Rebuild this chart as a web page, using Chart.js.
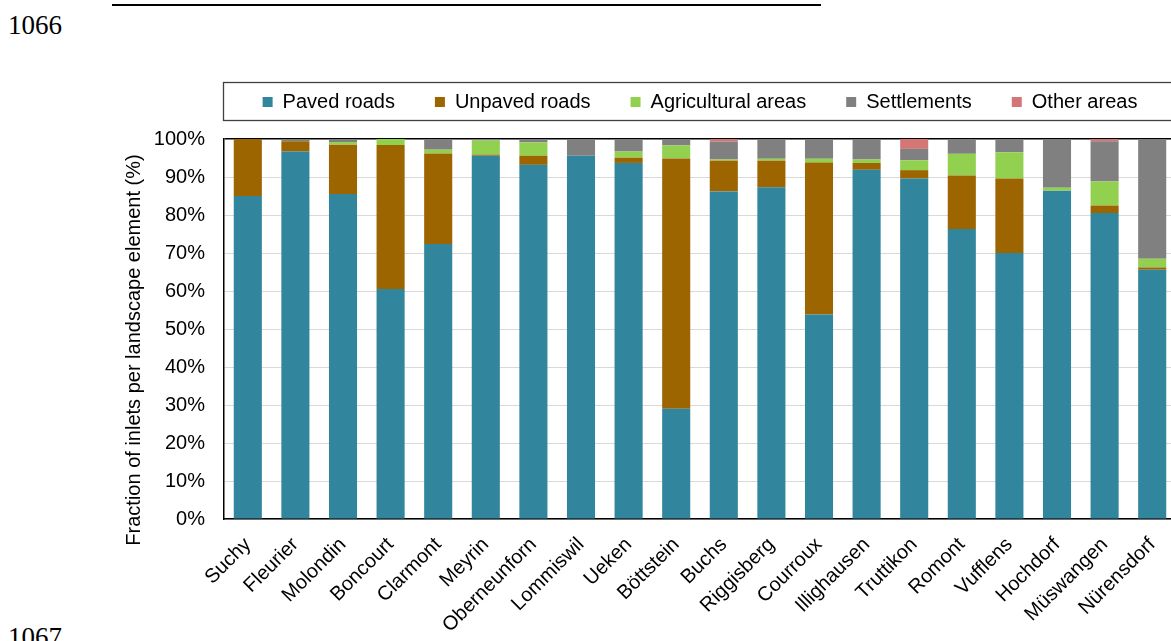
<!DOCTYPE html>
<html>
<head>
<meta charset="utf-8">
<script src="https://cdn.jsdelivr.net/npm/chart.js@4/dist/chart.umd.min.js"></script>
<style>
  html, body { margin: 0; padding: 0; background: #fff; overflow: hidden; width: 1171px; height: 641px; }
  #wrap { position: absolute; left: 0; top: 0; width: 1185px; height: 641px; }
  .lineno { position: absolute; left: 8px; font-family: "Liberation Serif", "Times New Roman", serif; font-size: 27px; color: #000; }
  #rule { position: absolute; left: 112px; top: 4px; width: 709px; height: 2px; background: #000; }
</style>
</head>
<body>
<div id="rule"></div>
<div class="lineno" style="top:10px;">1066</div>
<div class="lineno" style="top:622px;">1067</div>
<div id="wrap"><canvas id="chart" width="1185" height="641"></canvas></div>
<script>
const categories = ['Suchy', 'Fleurier', 'Molondin', 'Boncourt', 'Clarmont', 'Meyrin', 'Oberneunforn',
  'Lommiswil', 'Ueken', 'Böttstein', 'Buchs', 'Riggisberg', 'Courroux', 'Illighausen', 'Truttikon',
  'Romont', 'Vufflens', 'Hochdorf', 'Müswangen', 'Nürensdorf'];

// fractions in %
const pavedRoads   = [85.0, 96.7, 85.5, 60.5, 72.4, 95.6, 93.2, 95.6, 93.7, 29.0, 86.2, 87.3, 53.8, 91.9, 89.6, 76.3, 70.0, 86.4, 80.5, 65.6];
const unpavedRoads = [15.0, 2.7, 13.0, 37.9, 23.8, 0.3, 2.4, 0, 1.4, 65.9, 8.1, 7.0, 40.0, 1.8, 2.2, 14.1, 19.6, 0, 2.0, 0.6];
const agricultural = [0, 0, 0.7, 1.6, 1.0, 3.7, 3.5, 0, 1.6, 3.4, 0.3, 0.5, 1.0, 0.9, 2.6, 5.7, 6.9, 0.8, 6.3, 2.3];
const settlements  = [0, 0.6, 0.8, 0, 2.8, 0.4, 0.9, 4.4, 3.3, 1.7, 4.7, 5.2, 5.2, 5.4, 3.0, 3.9, 3.5, 12.8, 10.6, 31.5];
const otherAreas   = [0, 0, 0, 0, 0, 0, 0, 0, 0, 0, 0.7, 0, 0, 0, 2.6, 0, 0, 0, 0.6, 0];

const yTicks = [0, 10, 20, 30, 40, 50, 60, 70, 80, 90, 100];
const yTitle = 'Fraction of inlets per landscape element (%)';

const FONT = '"Liberation Sans", Arial, sans-serif';
Chart.defaults.font.family = FONT;
Chart.defaults.font.size = 20;
Chart.defaults.color = '#000';

// legend box sits over the plot width, with a frame around it
const legendTweaks = {
  id: 'legendTweaks',
  beforeInit(chart) {
    const legend = chart.legend;
    const fit = legend.fit;
    legend.fit = function () { fit.call(this); this.height = 87; };
  },
  afterLayout(chart) {
    // keep it centred on the plot, wide enough not to wrap
    chart.legend.left = chart.chartArea.left - 30;
    chart.legend.right = chart.chartArea.right + 30;
  },
  afterDraw(chart) {
    const ctx = chart.ctx;
    const a = chart.chartArea;
    ctx.save();
    ctx.strokeStyle = '#404040';
    ctx.lineWidth = 1.3;
    ctx.strokeRect(a.left - 0.5, 82.5, a.right - a.left + 2, 38);
    // y axis title
    ctx.translate(134, 350);
    ctx.rotate(-Math.PI / 2);
    ctx.font = '20px ' + FONT;
    ctx.fillStyle = '#000';
    ctx.textAlign = 'center';
    ctx.textBaseline = 'middle';
    ctx.fillText(yTitle, 0, 0);
    ctx.restore();
  }
};

new Chart(document.getElementById('chart'), {
  type: 'bar',
  data: {
    labels: categories,
    datasets: [
      { label: 'Paved roads', data: pavedRoads, backgroundColor: '#31859c' },
      { label: 'Unpaved roads', data: unpavedRoads, backgroundColor: '#9c6500' },
      { label: 'Agricultural areas', data: agricultural, backgroundColor: '#92d050' },
      { label: 'Settlements', data: settlements, backgroundColor: '#808080' },
      { label: 'Other areas', data: otherAreas, backgroundColor: '#d47676' }
    ]
  },
  options: {
    responsive: false,
    animation: false,
    barPercentage: 0.59,
    categoryPercentage: 1,
    layout: { padding: { top: 52, right: 9, left: 0, bottom: 0 } },
    plugins: {
      legend: {
        position: 'top',
        labels: { boxWidth: 10, boxHeight: 10, padding: 40, font: { size: 20 } }
      },
      tooltip: { enabled: false }
    },
    scales: {
      x: {
        stacked: true,
        grid: { display: false },
        border: { color: '#000', width: 1.5 },
        ticks: { minRotation: 45, maxRotation: 45, padding: 6, autoSkip: false },
        afterFit(scale) { scale.height = 122; }
      },
      y: {
        stacked: true,
        min: 0,
        max: 100,
        afterBuildTicks(scale) { scale.ticks = yTicks.map(v => ({ value: v })); },
        ticks: { padding: 19, callback: v => v + '%' },
        grid: {
          drawTicks: false,
          color: ctx => ctx.tick && ctx.tick.value === 100 ? '#000' : '#d9d9d9',
          lineWidth: ctx => ctx.tick && ctx.tick.value === 100 ? 1.5 : 1
        },
        border: { color: '#000', width: 1.5 },
        afterFit(scale) { scale.width = 224; }
      }
    }
  },
  plugins: [legendTweaks]
});
</script>
</body>
</html>
